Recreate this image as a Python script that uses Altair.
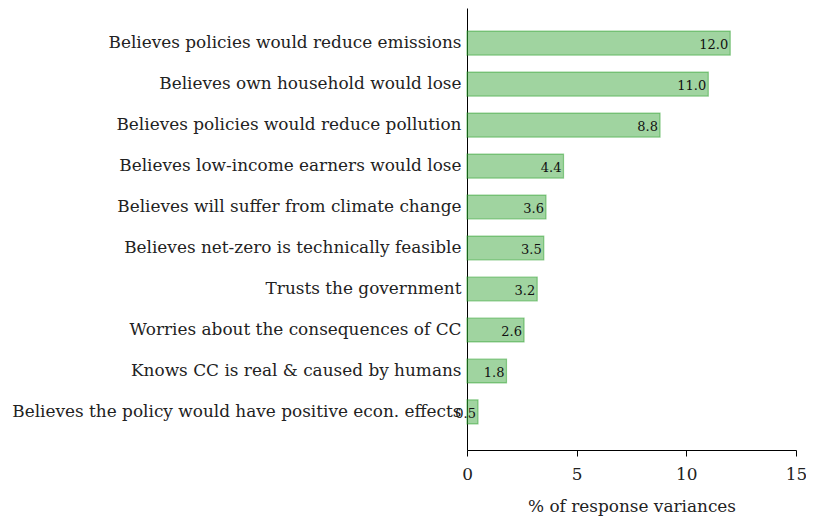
import altair as alt
import pandas as pd

categories = [
    "Believes policies would reduce emissions",
    "Believes own household would lose",
    "Believes policies would reduce pollution",
    "Believes low-income earners would lose",
    "Believes will suffer from climate change",
    "Believes net-zero is technically feasible",
    "Trusts the government",
    "Worries about the consequences of CC",
    "Knows CC is real & caused by humans",
    "Believes the policy would have positive econ. effects",
]
values = [12.0, 11.0, 8.8, 4.4, 3.6, 3.5, 3.2, 2.6, 1.8, 0.5]
x_ticks = [0, 5, 10, 15]

df = pd.DataFrame({"cat": categories, "val": values})
df["lab"] = df["val"].map(lambda v: f"{v:.1f}")

FONT = "DejaVu Serif"

y_enc = alt.Y("cat:N", sort=categories, title=None,
              scale=alt.Scale(paddingInner=0.415, paddingOuter=0.6, align=0.47),
              axis=alt.Axis(ticks=False, labelFontSize=16.9, labelFont=FONT,
                            labelColor="#222", labelPadding=6, domainColor="black",
                            labelLimit=0))
x_enc = alt.X("val:Q", title="% of response variances",
              scale=alt.Scale(domain=[0, 15], nice=False),
              axis=alt.Axis(values=x_ticks, grid=False, labelFontSize=16.9, labelFont=FONT,
                            titleFontSize=16.9, titleFont=FONT, titleFontWeight="normal",
                            titleColor="#222", labelColor="#222", tickColor="black",
                            domainColor="black", tickSize=6, labelPadding=10,
                            titlePadding=17, labelFlush=False))

bars = alt.Chart(df).mark_bar(
    fill="#2ca02c", fillOpacity=0.45, stroke="#2ca02c", strokeOpacity=0.5, strokeWidth=1.2
).encode(x=x_enc, y=y_enc)

text = alt.Chart(df).mark_text(
    align="right", baseline="middle", dx=-2, dy=2, fontSize=13, font=FONT, color="#111"
).encode(x="val:Q", y=alt.Y("cat:N", sort=categories), text="lab:N")

chart = (bars + text).properties(
    width=329, height=442,
    autosize=alt.AutoSizeParams(type="none"),
    padding={"left": 459, "top": 0, "right": 10, "bottom": 69},
).configure(font=FONT).configure_view(stroke=None)

chart.save("out.html", embed_options={"renderer": "svg", "actions": False})
